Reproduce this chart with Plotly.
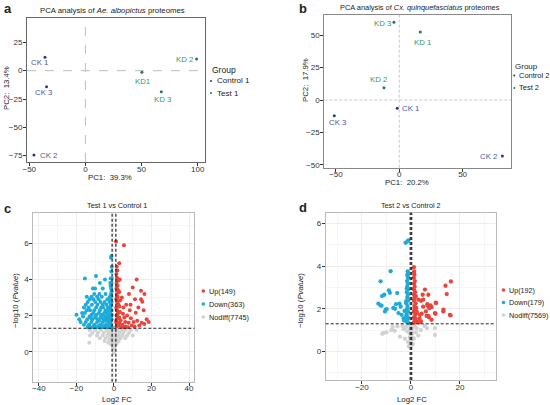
import plotly.graph_objects as go

# ---------------- PCA data ----------------
a_ctrl_names = ["CK 1", "CK 3", "CK 2"]
a_ctrl_pc1 = [-36.0, -34.6, -45.8]
a_ctrl_pc2 = [11.8, -14.1, -74.5]
a_test_names = ["KD1", "KD 3", "KD 2"]
a_test_pc1 = [50.3, 67.6, 99.0]
a_test_pc2 = [-1.4, -18.5, 10.3]

b_ctrl_names = ["CK 1", "CK 3", "CK 2"]
b_ctrl_pc1 = [-1.6, -51.3, 81.4]
b_ctrl_pc2 = [-6.4, -12.1, -43.2]
b_test_names = ["KD 3", "KD 1", "KD 2"]
b_test_pc1 = [-4.2, 16.6, -12.1]
b_test_pc2 = [60.0, 52.5, 9.5]

# ---------------- Volcano c data ----------------
c_up_x = [1.3, 1.5, 1.2, 1.8, 1.4, 2.1, 1.6, 1.3, 2.4, 1.7, 1.2, 2.0, 1.5, 2.6, 1.3, 1.9, 1.4, 2.2,
          1.6, 1.3, 1.8, 1.5, 1.1, 5.3, 2.8, 2.5, 3.0, 2.8, 3.2, 2.9, 3.5, 3.3, 2.7, 3.1,
          12.1, 10.0, 14.4, 16.2, 8.0, 11.2, 14.4, 15.1, 5.0, 8.4, 11.6, 17.4, 14.8, 16.2, 12.4,
          4.5, 5.5, 6.2, 7.0, 7.8, 9.0, 9.5, 10.5, 6.5, 4.2, 4.8, 6.0, 8.8, 13.5, 11.0, 13.0,
          15.8, 4.0, 5.8, 7.5, 18.5, 1.2, 1.4, 1.7, 1.3, 2.0, 1.5, 2.3, 1.9]
c_up_y = [1.40, 1.55, 1.70, 1.85, 2.00, 2.15, 2.30, 2.45, 2.60, 2.75, 2.90, 3.05, 3.20, 3.35, 3.50, 3.65, 3.80, 3.95,
          4.10, 4.30, 4.50, 4.70, 6.10, 5.90, 4.90, 1.45, 1.60, 1.90, 2.20, 2.50, 1.75, 2.85, 3.30, 4.00,
          4.00, 3.56, 3.38, 3.20, 3.20, 2.90, 2.90, 2.77, 2.45, 2.30, 2.16, 1.80, 1.60, 1.53, 1.72,
          1.50, 1.90, 1.40, 2.00, 1.60, 1.85, 1.45, 1.65, 2.60, 3.00, 2.10, 1.65, 2.60, 1.45, 1.40, 2.45,
          2.30, 1.35, 1.35, 1.35, 1.65, 1.62, 1.78, 2.08, 2.38, 2.68, 2.98, 1.48, 3.45]

c_down_x = [-14, -12.5, -11, -9.5, -8, -6.5, -5, -3.5, -2, -1.2,
            -16, -13.2, -10.3, -7.2, -4.3, -2.6, -1.5,
            -17.8, -15, -12, -9, -6, -3, -1.8,
            -18.5, -14.2, -11.5, -8.5, -5.5, -4, -2.3, -1.3,
            -16.5, -13, -10, -7, -4.8, -3.3, -1.6,
            -20, -12, -9.3, -6.3, -2.5, -1.2,
            -17, -15.5, -11, -8, -5.2, -3.8, -1.9,
            -14.5, -12.8, -10.5, -7.5, -4.5, -2.8, -1.4,
            -16, -13.5, -9.5, -6.8, -5.8, -3.2, -2,
            -15, -11.8, -8.8, -6, -4, -1.6,
            -14, -10, -7.2, -5, -2.4, -1.3,
            -13, -11, -8.2, -3.5, -1.8,
            -14.5, -12, -9, -6.5, -2.2, -1.4,
            -10.5, -7.8, -4.5, -1.6,
            -11.2, -10.1, -6, -1.5,
            -7.5, -2.0, -1.3,
            -15.5, -1.8, -1.2, -9.6, -4.8, -1.6, -1.4,
            -13.8, -10.8, -8.3, -5.8, -3.1, -1.5, -7.9, -4.6, -2.7,
            -12.3, -9.8, -6.9, -4.2, -2.1, -1.7, -1.3, -1.8, -1.4, -1.2]
c_down_y = [1.35, 1.35, 1.35, 1.35, 1.35, 1.35, 1.35, 1.35, 1.35, 1.35,
            1.50, 1.50, 1.50, 1.50, 1.50, 1.50, 1.50,
            1.65, 1.65, 1.65, 1.65, 1.65, 1.65, 1.65,
            1.80, 1.80, 1.80, 1.80, 1.80, 1.80, 1.80, 1.80,
            1.95, 1.95, 1.95, 1.95, 1.95, 1.95, 1.95,
            2.05, 2.05, 2.05, 2.05, 2.05, 2.05,
            2.15, 2.15, 2.15, 2.15, 2.15, 2.15, 2.15,
            2.30, 2.30, 2.30, 2.30, 2.30, 2.30, 2.30,
            2.45, 2.45, 2.45, 2.45, 2.45, 2.45, 2.45,
            2.60, 2.60, 2.60, 2.60, 2.60, 2.60,
            2.75, 2.75, 2.75, 2.75, 2.75, 2.75,
            2.90, 2.90, 2.90, 2.90, 2.90,
            3.05, 3.05, 3.05, 3.05, 3.05, 3.05,
            3.20, 3.20, 3.20, 3.20,
            3.50, 3.50, 3.50, 3.50,
            3.80, 3.80, 3.80,
            4.05, 4.05, 4.05, 4.20, 4.00, 5.20, 5.30,
            1.42, 1.42, 1.42, 1.42, 1.42, 1.42, 1.72, 1.72, 1.72,
            1.88, 1.88, 1.88, 1.88, 1.88, 2.55, 3.35, 3.65, 4.45, 4.70]

c_nodiff_x = [-13, -10, -7, -4, -2, -0.5, 0.5, 2, 4, 6, 9, 12,
              -11.5, -8.5, -5.5, -3, -1, 0, 1, 3, 5, 8,
              -12.8, -9, -6, -3.5, -1.5, -0.3, 0.8, 2.5, 4.5, 7, 10,
              -7.5, -4.5, -2.2, -0.8, 0.3, 1.5, 3.5, 6,
              -5, -2.5, -1, 0, 1, 2.5,
              -13.2, -3, -0.5, 0.5, 1.8,
              -1.5, 0, 1,
              -0.6, 0.4,
              0, -0.3, 0.2, -0.1]
c_nodiff_y = [1.20, 1.20, 1.20, 1.20, 1.20, 1.20, 1.20, 1.20, 1.20, 1.20, 1.20, 1.20,
              1.05, 1.05, 1.05, 1.05, 1.05, 1.05, 1.05, 1.05, 1.05, 1.05,
              0.90, 0.90, 0.90, 0.90, 0.90, 0.90, 0.90, 0.90, 0.90, 0.90, 0.90,
              0.75, 0.75, 0.75, 0.75, 0.75, 0.75, 0.75, 0.75,
              0.60, 0.60, 0.60, 0.60, 0.60, 0.60,
              0.50, 0.50, 0.50, 0.50, 0.50,
              0.40, 0.40, 0.40,
              0.30, 0.30,
              0.15, 0.15, 0.05, -0.05]

# ---------------- Volcano d data ----------------
d_up_x = [1.2, 1.5, 1.3, 1.8, 1.2, 1.6, 1.4, 1.9, 1.2, 1.5, 1.3, 1.7, 1.2, 1.5, 1.3, 1.6, 1.2, 1.4,
          1.3, 1.2, 1.8, 1.6, 2.1, 2.4, 2.0,
          16.3, 14.1, 14.6, 5.7, 5.0, 6.8, 7.5, 8.4, 10.3, 10.0, 13.3, 16.2, 6.4, 7.3, 4.4, 4.1,
          3.3, 1.6, 2.3, 3.0, 7.1, 4.8, 4.1, 6.7, 8.0, 10.1, 5.0, 6.1, 3.7, 7.1, 9.8, 13.2, 15.9, 8.4,
          2.6, 3.5, 2.2]
d_up_y = [1.35, 1.48, 1.61, 1.74, 1.87, 2.00, 2.13, 2.26, 2.39, 2.52, 2.65, 2.78, 2.91, 3.04, 3.17, 3.30, 3.45, 3.60,
          3.75, 3.95, 1.55, 1.95, 1.42, 1.80, 2.60,
          3.28, 3.08, 2.69, 2.90, 2.43, 2.14, 2.03, 2.08, 2.27, 1.77, 1.96, 1.69, 1.67, 1.61, 1.77, 1.41,
          1.36, 1.57, 1.88, 2.43, 2.66, 2.66, 2.38, 2.22, 2.16, 2.29, 2.10, 1.88, 1.72, 1.67, 1.80, 1.88, 1.72, 1.49,
          1.40, 1.55, 2.05]

d_down_x = [-2.2, -1.1, -1.5, -8.3, -12.4, -10.9, -9.0, -5.6, -13.3, -12.4, -6.1, -4.7, -6.5, -9.9, -10.6,
            -12.0, -10.3, -7.2, -3.8, -5.1, -11.8, -8.6, -4.2, -3.0, -2.6,
            -1.2, -1.5, -1.3, -1.8, -1.2, -1.6, -1.4, -1.9, -1.2, -1.5, -1.3, -1.7, -1.2, -1.5, -1.3, -1.6,
            -1.2, -1.4, -1.3, -1.8, -2.3, -2.0, -2.8, -1.7, -1.4]
d_down_y = [5.09, 5.20, 5.15, 3.76, 3.29, 2.66, 2.86, 2.74, 2.24, 2.16, 2.22, 2.24, 2.00, 1.99, 1.88,
            2.15, 1.96, 2.04, 1.72, 1.80, 2.60, 2.75, 2.10, 1.55, 1.90,
            1.35, 1.48, 1.61, 1.74, 1.87, 2.00, 2.13, 2.26, 2.39, 2.52, 2.65, 2.78, 2.91, 3.04, 3.17, 3.30,
            3.45, 3.60, 3.75, 1.42, 1.60, 2.35, 1.45, 2.95, 3.55]

d_nodiff_x = [-11.3, -10.0, -6.6, -4.5, -3.0, 2.3, 3.0, 9.8, 9.8, -11.7, -7.5, 5.5,
              -0.8, 0.0, 0.6, -0.4, 0.3, -0.7, 0.5, -0.2, 0.2, -0.5, 0.4, 0.0, -0.3, 0.1,
              -2.0, 1.5, -1.5, 2.0, -3.5, 4.0, -5.5, -2.5, 1.2, -1.2, 0.8, -0.9, 6.5, -8.0]
d_nodiff_y = [0.86, 0.90, 0.97, 0.70, 1.05, 1.10, 0.75, 1.10, 0.78, 0.83, 1.15, 1.20,
              1.25, 1.20, 1.10, 1.05, 1.00, 0.90, 0.85, 0.80, 0.70, 0.65, 0.55, 0.50, 0.40, 0.30,
              1.15, 1.20, 0.95, 0.90, 1.20, 1.00, 1.18, 0.60, 0.62, 0.45, 0.35, 0.25, 1.10, 1.00]

# ---------------- Labels ----------------
title_a = "PCA analysis of <i>Ae. albopictus</i> proteomes"
title_b = "PCA analysis of <i>Cx. quinquefasciatus</i> proteomes"
title_c = "Test 1 vs Control 1"
title_d = "Test 2 vs Control 2"
xlab_a = "PC1:  39.3%"
ylab_a = "PC2:  13.4%"
xlab_b = "PC1:  20.2%"
ylab_b = "PC2:  17.9%"
xlab_v = "Log2 FC"
ylab_v = "−log10 (<i>Pvalue</i>)"
legend_title = "Group"
a_groups = ["Control 1", "Test 1"]
b_groups = ["Control 2", "Test 2"]
c_legend = ["Up(149)", "Down(363)", "Nodiff(7745)"]
d_legend = ["Up(192)", "Down(179)", "Nodiff(7569)"]
pvalue_cut = 1.3
c_fc_cut = 1.0
d_fc_cut = 0.3

W, H = 550, 405
FONT = "Arial, Liberation Sans, sans-serif"
C_CTRL = "#2E3A80"
C_TEST = "#1E7A55"
T_CTRL = "#4A58A0"
T_TEST = "#2F9A6A"
RED = "#E8453C"
BLUE = "#1EABD9"
GRAY = "#D2D2D2"


def px(x):
    return x / W


def py(y):
    return 1 - y / H


fig = go.Figure()


def pts(x, y, color, size, xa, ya):
    fig.add_trace(go.Scatter(x=x, y=y, mode="markers", showlegend=False, hoverinfo="skip",
                             marker=dict(size=size, color=color, line=dict(width=0)),
                             xaxis=xa, yaxis=ya))


pts(a_ctrl_pc1, a_ctrl_pc2, C_CTRL, 3, "x", "y")
pts(a_test_pc1, a_test_pc2, C_TEST, 3, "x", "y")
pts(b_ctrl_pc1, b_ctrl_pc2, C_CTRL, 3, "x2", "y2")
pts(b_test_pc1, b_test_pc2, C_TEST, 3, "x2", "y2")
pts(c_nodiff_x, c_nodiff_y, GRAY, 4, "x3", "y3")
pts(c_down_x, c_down_y, BLUE, 4, "x3", "y3")
pts(c_up_x, c_up_y, RED, 4, "x3", "y3")
pts(d_nodiff_x, d_nodiff_y, GRAY, 4.3, "x4", "y4")
pts(d_down_x, d_down_y, BLUE, 4.3, "x4", "y4")
pts(d_up_x, d_up_y, RED, 4.3, "x4", "y4")

tickfont = dict(family=FONT, size=8, color="#333333")


def ax(domain, rng, dtick, anchor, linecolor, is_x, grid=False, minor_dtick=None):
    d = dict(domain=domain, range=rng, dtick=dtick, anchor=anchor, showline=True, mirror=True,
             linecolor=linecolor, linewidth=1, ticks="outside", ticklen=3, tickcolor="#333333",
             tickwidth=1, tickfont=tickfont, zeroline=False, showgrid=grid, gridcolor="#EDEDED",
             gridwidth=0.8, automargin=False, fixedrange=True,
             ticklabelstandoff=-4 if is_x else -1)
    if grid and minor_dtick:
        d["minor"] = dict(dtick=minor_dtick, showgrid=True, gridcolor="#F5F5F5", gridwidth=0.6)
    return d


fig.update_layout(
    width=W, height=H, margin=dict(l=0, r=0, t=0, b=0, autoexpand=False),
    paper_bgcolor="white", plot_bgcolor="white", font=dict(family=FONT, color="#222222"),
    showlegend=False,
    xaxis=ax([px(27), px(205)], [-52, 106.5], 50, "y", "#666666", True),
    yaxis=ax([py(162), py(18)], [-80.6, 46.5], 25, "x", "#666666", False),
    xaxis2=ax([px(324.3), px(511)], [-59.2, 88.2], 50, "y2", "#888888", True),
    yaxis2=ax([py(167.7), py(15)], [-52.2, 65.6], 25, "x2", "#888888", False),
    xaxis3=ax([px(33.3), px(194.3)], [-43, 42.8], 20, "y3", "#BBBBBB", True, True, 10),
    yaxis3=ax([py(381.7), py(212.7)], [-1.66, 7.7], 2, "x3", "#BBBBBB", False, True, 1),
    xaxis4=ax([px(325.7), px(495.7)], [-34.8, 34.6], 20, "y4", "#BBBBBB", True, True, 10),
    yaxis4=ax([py(380), py(212.7)], [-1.33, 6.5], 2, "x4", "#BBBBBB", False, True, 1),
)

shapes = []
# PCA reference lines
for xr, yr, dash, col in [("x", "y", "dash", "#BDBDBD"), ("x2", "y2", "3px,2px", "#C8C8C8")]:
    shapes.append(dict(type="line", xref=xr, yref=yr + " domain", x0=0, x1=0, y0=0, y1=1,
                       line=dict(color=col, width=1, dash=dash), layer="below"))
    shapes.append(dict(type="line", xref=xr + " domain", yref=yr, x0=0, x1=1, y0=0, y1=0,
                       line=dict(color=col, width=1, dash=dash), layer="below"))
# Volcano thresholds
for xr, yr, fc in [("x3", "y3", c_fc_cut), ("x4", "y4", d_fc_cut)]:
    shapes.append(dict(type="line", xref=xr + " domain", yref=yr, x0=0, x1=1, y0=pvalue_cut,
                       y1=pvalue_cut, line=dict(color="#222222", width=1, dash="3px,2px"), layer="above"))
    for v in (-fc, fc):
        shapes.append(dict(type="line", xref=xr, yref=yr + " domain", x0=v, x1=v, y0=0, y1=1,
                           line=dict(color="#222222", width=1.2, dash="3px,2px"), layer="above"))

ann = []


def txt(x, y, s, size=8.5, color="#222222", xanchor="center", yanchor="middle", angle=0, bold=False):
    if bold:
        s = "<b>" + s + "</b>"
    ann.append(dict(x=px(x), y=py(y), xref="paper", yref="paper", text=s, showarrow=False,
                    font=dict(family=FONT, size=size, color=color), xanchor=xanchor,
                    yanchor=yanchor, textangle=angle, borderpad=0))


def key(x, y, color, r):
    shapes.append(dict(type="circle", xref="paper", yref="paper", x0=px(x - r), x1=px(x + r),
                       y0=py(y + r), y1=py(y - r), fillcolor=color, line=dict(width=0)))


# legends (key x, text x, rows y, title y, key radius, font size)
for title, labels, colors, kx, tx, ys, ty, r, fs in [
    (legend_title, a_groups, [C_CTRL, C_TEST], 211, 215.5, [81, 93], 70.5, 1.0, 8),
    (legend_title, b_groups, [C_CTRL, C_TEST], 514.3, 518.3, [75.5, 88], 66, 1.0, 7.5),
    (None, c_legend, [RED, BLUE, GRAY], 203.3, 207.5, [291, 304, 317], None, 1.8, 7.3),
    (None, d_legend, [RED, BLUE, GRAY], 503.5, 507.5, [290, 302.5, 315], None, 1.8, 7.2),
]:
    if title:
        txt(tx - 4.5, ty, title, size=fs + 0.5, xanchor="left")
    for lab, col, yy in zip(labels, colors, ys):
        key(kx, yy, col, r)
        txt(tx, yy, lab, size=fs, xanchor="left")

# panel letters
txt(3, 0, "a", size=13, xanchor="left", yanchor="top", bold=True)
txt(298, 0, "b", size=13, xanchor="left", yanchor="top", bold=True)
txt(3, 200, "c", size=13, xanchor="left", yanchor="top", bold=True)
txt(298, 199, "d", size=13, xanchor="left", yanchor="top", bold=True)
# titles
txt(112, 10, title_a, size=7.8)
txt(420, 7.5, title_b, size=7.4)
txt(117, 205.5, title_c, size=7.3)
txt(411, 205.5, title_d, size=7.2)
# axis titles
txt(110, 177, xlab_a, size=7.8)
txt(7, 88, ylab_a, size=7.8, angle=-90)
txt(407, 182.5, xlab_b, size=7.8)
txt(305, 80, ylab_b, size=7.8, angle=-90)
txt(117, 399, xlab_v, size=7.8)
txt(15, 301, ylab_v, size=7.8, angle=-90)
txt(412, 399, xlab_v, size=7.8)
txt(300, 301, ylab_v, size=7.8, angle=-90)

# point labels (offsets in px: dx right, dy down)
a_ctrl_off = [(-5, 5.4), (-2.7, 5.6), (15, 0)]
a_test_off = [(0.6, 9.4), (1, 7.6), (-12.5, 0)]
b_ctrl_off = [(13, 0), (3.4, 7), (-13.5, 0)]
b_test_off = [(-11.2, 1.7), (2.4, 10.7), (-5, -8.4)]
for names, xs, ys, offs, col, xr, yr in [
    (a_ctrl_names, a_ctrl_pc1, a_ctrl_pc2, a_ctrl_off, T_CTRL, "x", "y"),
    (a_test_names, a_test_pc1, a_test_pc2, a_test_off, T_TEST, "x", "y"),
    (b_ctrl_names, b_ctrl_pc1, b_ctrl_pc2, b_ctrl_off, T_CTRL, "x2", "y2"),
    (b_test_names, b_test_pc1, b_test_pc2, b_test_off, T_TEST, "x2", "y2"),
]:
    for n, xv, yv, (dx, dy) in zip(names, xs, ys, offs):
        ann.append(dict(x=xv, y=yv, xref=xr, yref=yr, text=n, showarrow=False,
                        font=dict(family=FONT, size=7.8, color=col), xshift=dx, yshift=-dy))

fig.update_layout(annotations=ann, shapes=shapes)

fig.write_html("out.html", config={"displayModeBar": False},
               post_script="document.body.style.margin='0px';document.body.style.padding='0px';"
                           "document.body.style.overflow='hidden';")
